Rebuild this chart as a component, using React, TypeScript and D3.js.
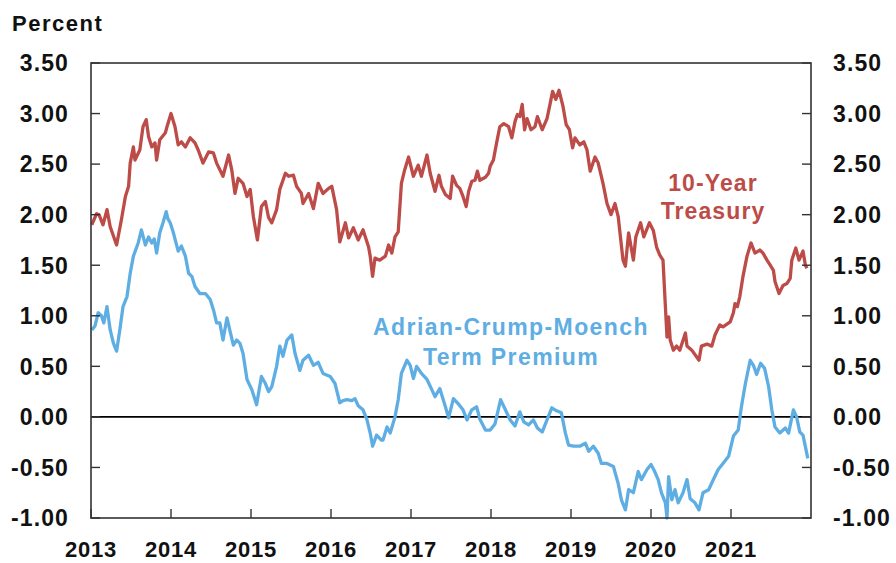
import React from "react";
import * as d3 from "d3";

// 10-Year Treasury yield (decimal year, percent)
const tsyDates = [
  2013.01, 2013.07, 2013.1, 2013.15, 2013.2, 2013.24, 2013.32, 2013.38, 2013.43, 2013.47, 2013.49, 2013.53, 2013.55, 2013.61, 2013.65, 2013.69, 2013.72, 2013.76, 2013.8, 2013.82, 2013.86, 2013.93, 2013.95,
  2014.0, 2014.05, 2014.09, 2014.13, 2014.18, 2014.24, 2014.3, 2014.34, 2014.4, 2014.47, 2014.53, 2014.57, 2014.65, 2014.72, 2014.76, 2014.8, 2014.84, 2014.9, 2014.95, 2014.99,
  2015.03, 2015.08, 2015.13, 2015.18, 2015.22, 2015.26, 2015.32, 2015.36, 2015.43, 2015.47, 2015.53, 2015.57, 2015.63, 2015.65, 2015.72, 2015.78, 2015.84, 2015.9, 2015.97,
  2016.01, 2016.07, 2016.11, 2016.18, 2016.22, 2016.28, 2016.34, 2016.4, 2016.47, 2016.49, 2016.52, 2016.55, 2016.61, 2016.68, 2016.72, 2016.76, 2016.8, 2016.84, 2016.88, 2016.92, 2016.97,
  2017.03, 2017.09, 2017.13, 2017.16, 2017.2, 2017.24, 2017.3, 2017.35, 2017.38, 2017.43, 2017.49, 2017.52, 2017.57, 2017.61, 2017.65, 2017.69, 2017.72, 2017.76, 2017.8, 2017.83, 2017.86, 2017.93, 2017.97, 2017.99,
  2018.03, 2018.07, 2018.11, 2018.16, 2018.22, 2018.26, 2018.3, 2018.33, 2018.36, 2018.39, 2018.42, 2018.45, 2018.5, 2018.55, 2018.58, 2018.64, 2018.7, 2018.74, 2018.77, 2018.81, 2018.85, 2018.9, 2018.94, 2018.98,
  2019.02, 2019.05, 2019.11, 2019.16, 2019.2, 2019.24, 2019.3, 2019.34, 2019.4, 2019.45, 2019.5, 2019.55, 2019.59, 2019.65, 2019.68, 2019.72, 2019.76, 2019.78, 2019.81, 2019.87, 2019.91, 2019.98,
  2020.03, 2020.07, 2020.11, 2020.15, 2020.18, 2020.2, 2020.22, 2020.24, 2020.28, 2020.32, 2020.36, 2020.43, 2020.45, 2020.51, 2020.6, 2020.63, 2020.7, 2020.76, 2020.8, 2020.86, 2020.9, 2020.99,
  2021.03, 2021.05, 2021.08, 2021.11, 2021.15, 2021.2, 2021.25, 2021.3, 2021.36, 2021.4, 2021.45, 2021.49, 2021.53, 2021.55, 2021.6, 2021.65, 2021.7, 2021.74, 2021.76, 2021.81, 2021.85, 2021.9, 2021.93, 2021.95,
];
const tsyValues = [
  1.9, 2.01, 2.0, 1.9, 2.05, 1.88, 1.7, 1.95, 2.18, 2.28, 2.51, 2.67, 2.54, 2.64, 2.87, 2.94, 2.77, 2.67, 2.71, 2.54, 2.74, 2.81, 2.87,
  3.0, 2.87, 2.69, 2.72, 2.67, 2.76, 2.71, 2.64, 2.51, 2.62, 2.61, 2.51, 2.38, 2.59, 2.44, 2.21, 2.36, 2.31, 2.18, 2.25,
  1.98, 1.75, 2.08, 2.13, 1.97, 1.92, 2.05, 2.25, 2.41, 2.38, 2.39, 2.28, 2.21, 2.11, 2.21, 2.06, 2.31, 2.21, 2.26,
  2.28, 2.05, 1.73, 1.92, 1.77, 1.87, 1.75, 1.85, 1.68, 1.59, 1.39, 1.57, 1.55, 1.59, 1.7, 1.62, 1.78, 1.83, 2.31, 2.44, 2.57,
  2.38, 2.49, 2.38, 2.47, 2.59, 2.41, 2.23, 2.39, 2.28, 2.2, 2.16, 2.38, 2.29, 2.26, 2.18, 2.08, 2.23, 2.33, 2.34, 2.43, 2.34, 2.37, 2.41, 2.48,
  2.54, 2.71, 2.87, 2.9, 2.87, 2.76, 2.92, 2.99, 2.97, 3.09, 2.84, 2.95, 2.84, 2.87, 2.97, 2.84, 2.95, 3.1, 3.22, 3.14, 3.23, 3.07, 2.89, 2.84,
  2.66, 2.76, 2.69, 2.72, 2.64, 2.43, 2.57, 2.51, 2.31, 2.11, 2.0, 2.11, 1.98, 1.55, 1.49, 1.82, 1.64, 1.55, 1.78, 1.92, 1.78, 1.92,
  1.84, 1.68, 1.6, 1.55, 1.09, 0.79, 0.99, 0.76, 0.66, 0.7, 0.66, 0.83, 0.7, 0.66, 0.56, 0.7, 0.72, 0.7, 0.81, 0.91, 0.89, 0.94,
  1.03, 1.12, 1.09, 1.19, 1.39, 1.59, 1.72, 1.62, 1.65, 1.62, 1.55, 1.5, 1.45, 1.34, 1.22, 1.3, 1.32, 1.37, 1.55, 1.67, 1.55, 1.64, 1.5, 1.47,
];

// Adrian-Crump-Moench 10-year term premium (decimal year, percent)
const acmDates = [
  2013.01, 2013.05, 2013.09, 2013.13, 2013.16, 2013.2, 2013.24, 2013.28, 2013.32, 2013.36, 2013.4, 2013.45, 2013.49, 2013.53, 2013.59, 2013.63, 2013.68, 2013.72, 2013.76, 2013.79, 2013.82, 2013.86, 2013.9, 2013.94, 2013.96, 2013.99,
  2014.03, 2014.09, 2014.13, 2014.18, 2014.22, 2014.26, 2014.3, 2014.36, 2014.43, 2014.49, 2014.53, 2014.57, 2014.61, 2014.65, 2014.7, 2014.74, 2014.78, 2014.82, 2014.86, 2014.9, 2014.95,
  2015.01, 2015.07, 2015.13, 2015.18, 2015.22, 2015.26, 2015.32, 2015.36, 2015.4, 2015.45, 2015.51, 2015.55, 2015.61, 2015.65, 2015.72, 2015.78, 2015.84, 2015.9, 2015.99,
  2016.05, 2016.11, 2016.15, 2016.2, 2016.26, 2016.3, 2016.34, 2016.4, 2016.45, 2016.49, 2016.52, 2016.57, 2016.63, 2016.65, 2016.7, 2016.74, 2016.8, 2016.84, 2016.88, 2016.95, 2016.99,
  2017.03, 2017.07, 2017.13, 2017.2, 2017.26, 2017.3, 2017.36, 2017.43, 2017.47, 2017.53, 2017.59, 2017.65, 2017.7, 2017.76, 2017.82, 2017.86, 2017.93, 2017.99,
  2018.05, 2018.12, 2018.18, 2018.24, 2018.3, 2018.36, 2018.41, 2018.47, 2018.53, 2018.58, 2018.64, 2018.7, 2018.76, 2018.82, 2018.88, 2018.93, 2018.97,
  2019.03, 2019.11, 2019.18, 2019.22, 2019.28, 2019.34, 2019.38, 2019.45, 2019.53, 2019.59, 2019.63, 2019.68, 2019.72, 2019.78, 2019.84, 2019.88, 2019.95,
  2020.0, 2020.04, 2020.09, 2020.13, 2020.18, 2020.2, 2020.22, 2020.26, 2020.3, 2020.34, 2020.4, 2020.45, 2020.49, 2020.55, 2020.6, 2020.65, 2020.72, 2020.78, 2020.84, 2020.9, 2020.97,
  2021.03, 2021.09, 2021.13, 2021.18, 2021.24, 2021.28, 2021.32, 2021.37, 2021.42, 2021.47, 2021.51, 2021.55, 2021.61, 2021.68, 2021.72, 2021.78, 2021.82, 2021.86, 2021.9, 2021.96,
];
const acmValues = [
  0.86, 0.9, 1.03, 1.0, 0.93, 1.09, 0.86, 0.73, 0.65, 0.86, 1.09, 1.19, 1.42, 1.59, 1.72, 1.85, 1.7, 1.78, 1.72, 1.76, 1.62, 1.82, 1.92, 2.03, 1.96, 1.92,
  1.82, 1.64, 1.69, 1.59, 1.42, 1.39, 1.29, 1.22, 1.22, 1.16, 1.06, 0.93, 0.93, 0.76, 0.98, 0.84, 0.71, 0.76, 0.73, 0.63, 0.37,
  0.27, 0.12, 0.4, 0.33, 0.25, 0.3, 0.5, 0.7, 0.6, 0.76, 0.81, 0.63, 0.46, 0.56, 0.61, 0.51, 0.54, 0.43, 0.4,
  0.33, 0.14, 0.16, 0.17, 0.16, 0.18, 0.11, 0.07, -0.03, -0.16, -0.29, -0.18, -0.23, -0.23, -0.1, -0.16, 0.0, 0.17, 0.43, 0.56, 0.51,
  0.38, 0.5, 0.43, 0.37, 0.27, 0.2, 0.28, 0.1, -0.01, 0.18, 0.13, 0.07, -0.03, 0.07, 0.1, -0.02, -0.13, -0.13,
  -0.07, 0.17, 0.07, -0.03, -0.09, 0.05, -0.05, -0.08, -0.03, -0.11, -0.15, -0.03, 0.09, 0.06, 0.04, -0.16, -0.28,
  -0.29, -0.29, -0.26, -0.34, -0.29, -0.36, -0.46, -0.46, -0.49, -0.66, -0.82, -0.92, -0.72, -0.75, -0.54, -0.62, -0.52,
  -0.47, -0.53, -0.62, -0.75, -0.85, -1.0, -0.59, -0.82, -0.72, -0.85, -0.75, -0.62, -0.81, -0.85, -0.92, -0.75, -0.72, -0.62, -0.52, -0.46, -0.39,
  -0.19, -0.13, 0.1, 0.33, 0.56, 0.51, 0.42, 0.53, 0.48, 0.3, 0.07, -0.1, -0.16, -0.11, -0.16, 0.07, 0.0, -0.15, -0.18, -0.41,
];

const yTickValues = [-1, -0.5, 0, 0.5, 1, 1.5, 2, 2.5, 3, 3.5];
const xTickYears = [2013, 2014, 2015, 2016, 2017, 2018, 2019, 2020, 2021];
const axisTitle = "Percent";
const tsyLabel = ["10-Year", "Treasury"];
const acmLabel = ["Adrian-Crump-Moench", "Term Premium"];

const W = 896;
const H = 563;
const M = { left: 91, right: 811, top: 63, bottom: 518 };
const RED = "#BD4B47";
const BLUE = "#5EAEE3";
const FONT = "'Liberation Sans', Arial, sans-serif";

export default function App() {
  const x = d3.scaleLinear().domain([2013, 2022]).range([M.left, M.right]);
  const y = d3.scaleLinear().domain([-1, 3.5]).range([M.bottom, M.top]);

  const tsy = tsyDates.map((d, i) => [d, tsyValues[i]] as [number, number]);
  const acm = acmDates.map((d, i) => [d, acmValues[i]] as [number, number]);
  const line = d3
    .line<[number, number]>()
    .x((d) => x(d[0]))
    .y((d) => y(d[1]))
    .curve(d3.curveLinear);

  const tickLen = 9;
  const labelStyle = {
    fontFamily: FONT,
    fontWeight: 700,
    fontSize: 23,
    fill: "#111",
    letterSpacing: "1.1px",
  } as React.CSSProperties;

  return (
    <svg
      width={W}
      height={H}
      viewBox={`0 0 ${W} ${H}`}
      style={{ position: "absolute", left: 0, top: 0, background: "#fff" }}
    >
      <rect x={0} y={0} width={W} height={H} fill="#fff" />
      <text x={12} y={31} style={{ ...labelStyle, fontSize: 22, letterSpacing: "1.5px" }}>
        {axisTitle}
      </text>

      {/* zero line */}
      <line x1={M.left} x2={M.right} y1={y(0)} y2={y(0)} stroke="#000" strokeWidth={1.6} />

      {/* series */}
      <path d={line(acm) || ""} fill="none" stroke={BLUE} strokeWidth={3.3} strokeLinejoin="round" />
      <path d={line(tsy) || ""} fill="none" stroke={RED} strokeWidth={3.3} strokeLinejoin="round" />

      {/* frame */}
      <rect
        x={M.left}
        y={M.top}
        width={M.right - M.left}
        height={M.bottom - M.top}
        fill="none"
        stroke="#333"
        strokeWidth={1.6}
      />

      {/* y ticks and labels, both sides */}
      {yTickValues.map((v) => (
        <g key={v}>
          <line x1={M.left} x2={M.left + tickLen} y1={y(v)} y2={y(v)} stroke="#333" strokeWidth={1.4} />
          <line x1={M.right} x2={M.right - tickLen} y1={y(v)} y2={y(v)} stroke="#333" strokeWidth={1.4} />
          <text x={M.left - 22} y={y(v)} dy="0.36em" textAnchor="end" style={labelStyle}>
            {v.toFixed(2)}
          </text>
          <text x={M.right + 22} y={y(v)} dy="0.36em" textAnchor="start" style={labelStyle}>
            {v.toFixed(2)}
          </text>
        </g>
      ))}

      {/* x ticks and labels */}
      {xTickYears.map((yr) => (
        <g key={yr}>
          <line x1={x(yr)} x2={x(yr)} y1={M.bottom} y2={M.bottom - tickLen} stroke="#333" strokeWidth={1.4} />
          <text x={x(yr)} y={557} textAnchor="middle" style={{ ...labelStyle, fontSize: 22, letterSpacing: "0.8px" }}>
            {yr}
          </text>
        </g>
      ))}

      {/* annotations */}
      {tsyLabel.map((t, i) => (
        <text
          key={t}
          x={713}
          y={191 + i * 28}
          textAnchor="middle"
          style={{ ...labelStyle, fill: RED, fontSize: 23, letterSpacing: "1.1px" }}
        >
          {t}
        </text>
      ))}
      {acmLabel.map((t, i) => (
        <text
          key={t}
          x={511}
          y={335 + i * 30}
          textAnchor="middle"
          style={{ ...labelStyle, fill: BLUE, fontSize: 23, letterSpacing: "1.4px" }}
        >
          {t}
        </text>
      ))}
    </svg>
  );
}
